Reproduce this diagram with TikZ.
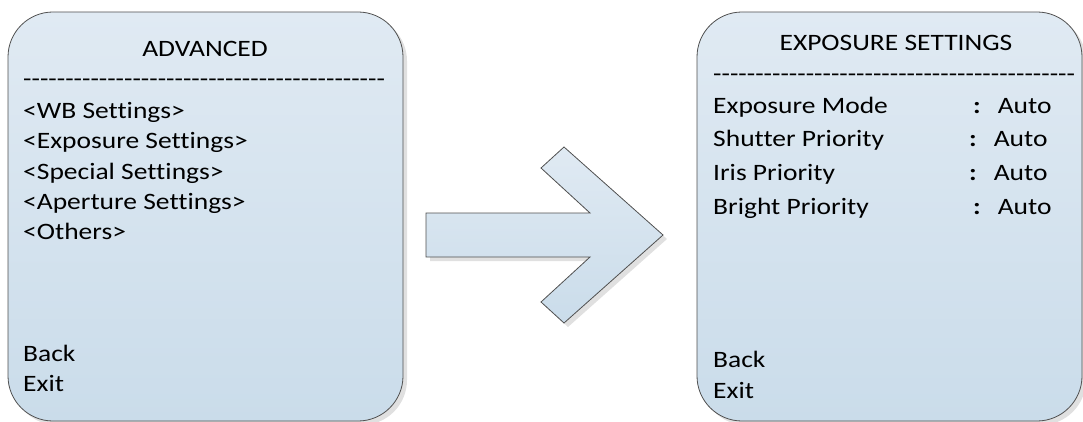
\documentclass[tikz,border=0pt]{standalone}
\usepackage{fontspec}
\setmainfont{Carlito}[FakeStretch=1.17, Ligatures={TeXOff,NoCommon}]
\usetikzlibrary{shadows}
\definecolor{paneltop}{HTML}{E0EAF3}
\definecolor{panelbot}{HTML}{CADCEA}
\definecolor{edgegray}{HTML}{505050}
\newcommand{\menurule}{-------------------------------------------}

\begin{document}
\begin{tikzpicture}[
  x=1pt, y=-1pt,
  panel/.style={draw=edgegray, line width=0.8pt, rounded corners=45pt, minimum height=409pt, inner sep=0pt,
    top color=paneltop, bottom color=panelbot,
    drop shadow={shadow xshift=4pt, shadow yshift=-4pt, fill=black!12, opacity=1}},
  bigarrow/.style={draw=edgegray, line width=0.8pt, top color=paneltop, bottom color=panelbot,
    drop shadow={shadow xshift=4pt, shadow yshift=-4pt, fill=black!12, opacity=1}},
  head/.style={anchor=base, inner sep=0pt, font=\fontsize{23.5}{28}\selectfont},
  item/.style={anchor=base west, inner sep=0pt, font=\fontsize{23.5}{28}\selectfont}
]
\useasboundingbox (0,0) rectangle (1083,422);
\node[panel, minimum width=395pt] (advanced) at (205.5,216.5) {};
\node[panel, minimum width=385pt] (exposure) at (889.5,216.5) {};
\draw[bigarrow] (426,213) -- (590,213) -- (541,168) -- (564,147) -- (663,235) -- (564,323) -- (541,302) -- (590,257) -- (426,257) -- cycle;
% left menu
\node[head] (adv-title) at (205,57) {ADVANCED};
\node[item] (adv-rule) at (23,87) {\menurule};
\node[item] (adv-wb) at (23,119) {<WB Settings>};
\node[item] (adv-exp) at (23,149) {<Exposure Settings>};
\node[item] (adv-spc) at (23,179) {<Special Settings>};
\node[item] (adv-ape) at (23,209) {<Aperture Settings>};
\node[item] (adv-oth) at (23,239) {<Others>};
\node[item] (adv-back) at (23,361) {Back};
\node[item] (adv-exit) at (23,391) {Exit};
% right menu
\node[head] (exp-title) at (896,51) {EXPOSURE SETTINGS};
\node[item] (exp-rule) at (713,82) {\menurule};
\node[item] (exp-mode) at (713,114) {Exposure Mode};
\node[item] (exp-shut) at (713,147) {Shutter Priority};
\node[item] (exp-iris) at (713,180) {Iris Priority};
\node[item] (exp-brt) at (713,214) {Bright Priority};
\node[item] (exp-mode-v) at (973,114) {\textbf{:}\hspace{17pt}Auto};
\node[item] (exp-shut-v) at (969,147) {\textbf{:}\hspace{17pt}Auto};
\node[item] (exp-iris-v) at (969,180) {\textbf{:}\hspace{17pt}Auto};
\node[item] (exp-brt-v) at (973,214) {\textbf{:}\hspace{17pt}Auto};
\node[item] (exp-back) at (713,367) {Back};
\node[item] (exp-exit) at (713,398) {Exit};
\end{tikzpicture}
\end{document}
